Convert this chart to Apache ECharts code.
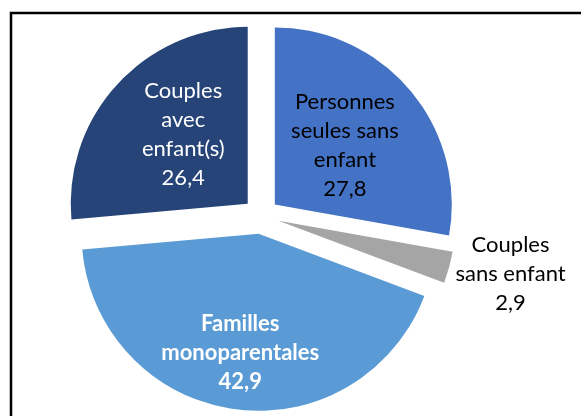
<!DOCTYPE html>
<html>
<head>
<meta charset="utf-8">
<script src="https://cdn.jsdelivr.net/npm/echarts@6/dist/echarts.min.js"></script>
<style>
  html, body { margin: 0; padding: 0; background: #fff; }
  #chart { width: 581px; height: 416px; }
</style>
</head>
<body>
<div id="chart"></div>
<script>
const categories = ['Personnes\nseules sans\nenfant', 'Couples\nsans enfant', 'Familles\nmonoparentales', 'Couples\navec\nenfant(s)'];
const values = [27.8, 2.9, 42.9, 26.4];
const colors = ['#4472C4', '#A5A5A5', '#5B9BD5', '#264478'];
const textColors = ['#000', '#000', '#fff', '#fff'];
const labelShift = [[0, 0], [12, 2], [-6, 28], [3, -8]];

const chart = echarts.init(document.getElementById('chart'));

const data = values.map((v, i) => ({
  name: categories[i],
  value: v,
  selected: true,
  itemStyle: { color: colors[i] },
  label: {
    color: textColors[i],
    fontWeight: i === 2 ? 'bold' : 'normal',
    position: i === 1 ? 'outside' : 'inside'
  }
}));

chart.setOption({
  animation: false,
  graphic: [{
    type: 'rect',
    z: -1,
    shape: { x: 11, y: 13, width: 620, height: 480 },
    style: { fill: 'none', stroke: '#000', lineWidth: 2.5 }
  }],
  series: [{
    type: 'pie',
    center: [261, 216],
    radius: 177,
    startAngle: 90,
    clockwise: true,
    selectedMode: 'multiple',
    selectedOffset: 18,
    avoidLabelOverlap: false,
    labelLine: { show: false },
    label: {
      fontFamily: 'Lato',
      fontSize: 22,
      lineHeight: 29,
      align: 'center',
      formatter: p => p.name + '\n' + String(p.value).replace('.', ',')
    },
    labelLayout: p => ({
      align: 'center',
      dx: labelShift[p.dataIndex][0],
      dy: labelShift[p.dataIndex][1]
    }),
    data: data
  }]
});
</script>
</body>
</html>
